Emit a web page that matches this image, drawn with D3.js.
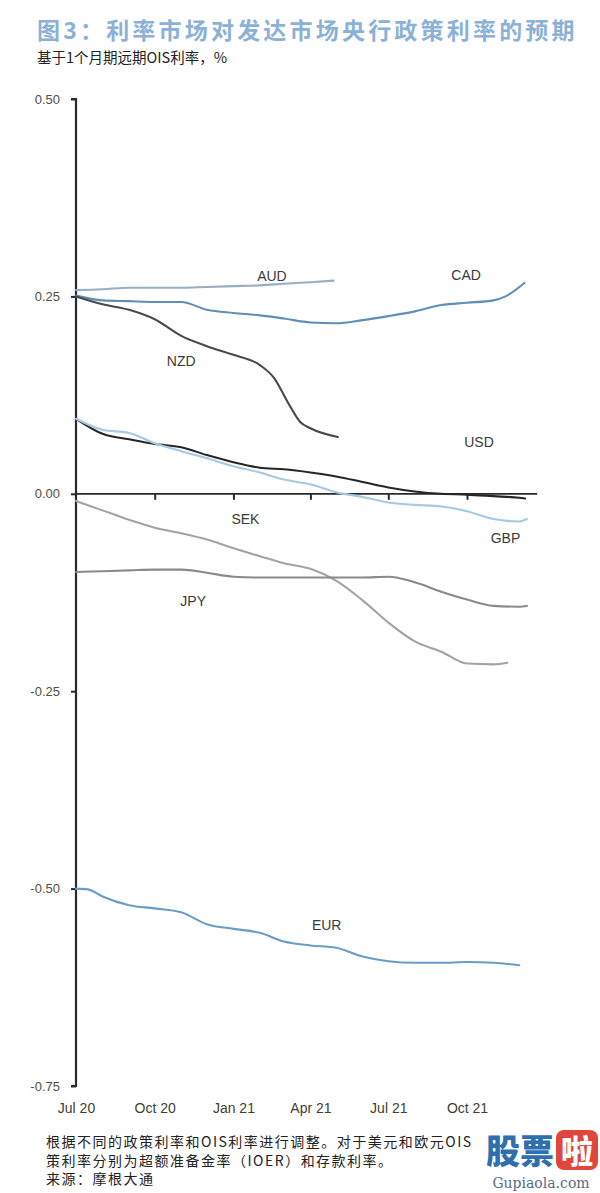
<!DOCTYPE html>
<html><head><meta charset="utf-8">
<script src="https://cdn.jsdelivr.net/npm/d3@7"></script>
<style>body{margin:0;background:#fff}svg{display:block}</style>
</head><body>
<svg id="c" width="600" height="1193"></svg>
<script>
// ---- data ----
const yTicks = [0.5, 0.25, 0, -0.25, -0.5, -0.75];
const yTickLabels = ["0.50", "0.25", "0.00", "-0.25", "-0.50", "-0.75"];
const xTicks = ["2020-07-01", "2020-10-01", "2021-01-01", "2021-04-01", "2021-07-01", "2021-10-01"];
const xTickLabels = ["Jul 20", "Oct 20", "Jan 21", "Apr 21", "Jul 21", "Oct 21"];

const AUD = [["2020-07-01",0.258],["2020-08-01",0.259],["2020-09-01",0.261],["2020-10-01",0.261],
  ["2020-11-01",0.261],["2020-12-01",0.262],["2021-01-01",0.263],["2021-02-01",0.264],
  ["2021-03-01",0.266],["2021-04-01",0.268],["2021-04-28",0.270]];
const CAD = [["2020-07-01",0.251],["2020-08-01",0.245],["2020-09-01",0.244],["2020-10-01",0.243],
  ["2020-11-01",0.243],["2020-12-01",0.233],["2021-01-01",0.229],["2021-02-01",0.226],
  ["2021-03-01",0.222],["2021-04-01",0.217],["2021-05-01",0.216],["2021-06-01",0.220],
  ["2021-07-01",0.225],["2021-08-01",0.231],["2021-09-01",0.239],["2021-10-01",0.242],
  ["2021-11-01",0.245],["2021-11-15",0.250],["2021-12-07",0.267]];
const NZD = [["2020-07-01",0.250],["2020-08-01",0.240],["2020-09-01",0.233],["2020-10-01",0.221],
  ["2020-11-01",0.200],["2020-12-01",0.187],["2021-01-01",0.176],["2021-02-01",0.163],
  ["2021-02-18",0.146],["2021-03-06",0.115],["2021-03-20",0.091],["2021-04-01",0.083],
  ["2021-05-03",0.072]];
const USD = [["2020-07-01",0.095],["2020-08-01",0.076],["2020-09-01",0.069],["2020-10-01",0.063],
  ["2020-11-01",0.059],["2020-12-01",0.049],["2021-01-01",0.040],["2021-02-01",0.033],
  ["2021-03-01",0.031],["2021-04-01",0.027],["2021-05-01",0.022],["2021-06-01",0.015],
  ["2021-07-01",0.008],["2021-08-01",0.003],["2021-09-01",0.000],["2021-10-01",-0.001],
  ["2021-11-01",-0.003],["2021-12-01",-0.005],["2021-12-08",-0.006]];
const GBP = [["2020-07-01",0.095],["2020-08-01",0.081],["2020-09-01",0.077],["2020-10-01",0.064],
  ["2020-11-01",0.054],["2020-12-01",0.045],["2021-01-01",0.035],["2021-02-01",0.027],
  ["2021-03-01",0.018],["2021-04-01",0.012],["2021-05-01",0.002],["2021-06-01",-0.004],
  ["2021-07-01",-0.011],["2021-08-01",-0.014],["2021-09-01",-0.016],["2021-10-01",-0.022],
  ["2021-11-01",-0.032],["2021-12-01",-0.035],["2021-12-10",-0.032]];
const SEK = [["2020-07-01",-0.009],["2020-08-01",-0.021],["2020-09-01",-0.033],["2020-10-01",-0.043],
  ["2020-11-01",-0.050],["2020-12-01",-0.058],["2021-01-01",-0.069],["2021-02-01",-0.079],
  ["2021-03-01",-0.088],["2021-04-01",-0.095],["2021-05-01",-0.110],["2021-06-01",-0.135],
  ["2021-07-01",-0.163],["2021-08-01",-0.187],["2021-09-01",-0.200],["2021-10-01",-0.215],
  ["2021-11-01",-0.216],["2021-11-17",-0.214]];
const JPY = [["2020-07-01",-0.099],["2020-08-01",-0.098],["2020-09-01",-0.097],["2020-10-01",-0.096],
  ["2020-11-01",-0.096],["2020-12-01",-0.100],["2021-01-01",-0.105],["2021-02-01",-0.106],
  ["2021-03-01",-0.106],["2021-04-01",-0.106],["2021-05-01",-0.106],["2021-06-01",-0.106],
  ["2021-07-01",-0.105],["2021-08-01",-0.112],["2021-09-01",-0.124],["2021-10-01",-0.134],
  ["2021-11-01",-0.142],["2021-12-01",-0.143],["2021-12-10",-0.142]];
const EUR = [["2020-07-01",-0.500],["2020-07-15",-0.501],["2020-08-01",-0.510],["2020-09-01",-0.521],
  ["2020-10-01",-0.525],["2020-11-01",-0.530],["2020-12-01",-0.545],["2021-01-01",-0.551],
  ["2021-02-01",-0.556],["2021-03-01",-0.567],["2021-04-01",-0.572],["2021-05-01",-0.575],
  ["2021-06-01",-0.586],["2021-07-01",-0.592],["2021-08-01",-0.594],["2021-09-01",-0.594],
  ["2021-10-01",-0.593],["2021-11-01",-0.594],["2021-12-01",-0.597]];

const seriesNames = ["AUD","CAD","NZD","USD","GBP","SEK","JPY","EUR"];
const seriesData = [AUD, CAD, NZD, USD, GBP, SEK, JPY, EUR];
const seriesColors = ["#9aaec2","#5f8fb6","#4a4a4a","#262626","#a6c8e2","#a3a3a3","#8a8a8a","#6b9cc4"];
const labelPos = [["2021-02-15",0.274],["2021-09-30",0.276],["2020-11-01",0.167],
  ["2021-10-15",0.064],["2021-11-15",-0.057],["2021-01-15",-0.033],["2020-11-15",-0.137],["2021-04-20",-0.548]];

const title = "图3：利率市场对发达市场央行政策利率的预期";
const subtitle = "基于1个月期远期OIS利率，%";
const notes = ["根据不同的政策利率和OIS利率进行调整。对于美元和欧元OIS",
  "策利率分别为超额准备金率（IOER）和存款利率。",
  "来源：摩根大通"];

// ---- drawing ----
const svg = d3.select("#c");
const P = d3.timeParse("%Y-%m-%d");
const x = d3.scaleTime().domain([P("2020-07-01"), P("2021-10-01")]).range([76, 467]);
const y = d3.scaleLinear().domain([0.5, -0.75]).range([99, 1086]);

svg.append("text").attr("x", 37).attr("y", 39).text(title)
  .attr("font-family", "Noto Sans CJK SC").attr("font-weight", 700).attr("font-size", 23)
  .attr("letter-spacing", 3.2).attr("fill", "#8cb1d6");
svg.append("text").attr("x", 37).attr("y", 62.5).text(subtitle)
  .attr("font-family", "Noto Sans CJK SC").attr("font-size", 14.5).attr("fill", "#222");

// y axis
const yAxis = d3.axisLeft(y).tickValues(yTicks).tickSize(5).tickPadding(11)
  .tickFormat((d, i) => yTickLabels[i]);
const gy = svg.append("g").attr("transform", "translate(76,0)").call(yAxis);
gy.select(".domain").attr("stroke", "#2a2a2a").attr("stroke-width", 2.2)
  .attr("d", `M-5,${y(0.5)}H0V${y(-0.75)}H-5`);
gy.selectAll(".tick line").attr("stroke", "#2a2a2a").attr("stroke-width", 2);
gy.selectAll(".tick text").attr("font-family", "Liberation Sans, Arial").attr("font-size", 13)
  .attr("fill", "#505040");

// x axis at zero
const xAxis = d3.axisBottom(x).tickValues(xTicks.map(P)).tickSize(6).tickFormat("");
const gx = svg.append("g").attr("transform", `translate(0,${y(0)})`).call(xAxis);
gx.select(".domain").attr("stroke", "#2a2a2a").attr("stroke-width", 1.8)
  .attr("d", `M${x(P("2020-07-01"))},0H${x(P("2021-12-22"))}`);
gx.selectAll(".tick line").attr("stroke", "#2a2a2a").attr("stroke-width", 2);
gx.selectAll(".tick").filter((d, i) => i === 0).select("line").remove();

// x labels at bottom
const gxb = svg.append("g").attr("transform", `translate(0,${y(-0.75)})`)
  .call(d3.axisBottom(x).tickValues(xTicks.map(P)).tickSize(0).tickPadding(17)
    .tickFormat((d, i) => xTickLabels[i]));
gxb.select(".domain").remove();
gxb.selectAll(".tick text").attr("font-family", "Liberation Sans, Arial").attr("font-size", 14)
  .attr("fill", "#404030");

// lines
const line = d3.line().x(d => x(P(d[0]))).y(d => y(d[1])).curve(d3.curveMonotoneX);
seriesData.forEach((s, i) => {
  svg.append("path").datum(s).attr("d", line).attr("fill", "none")
    .attr("stroke", seriesColors[i]).attr("stroke-width", 2.1)
    .attr("stroke-linejoin", "round").attr("stroke-linecap", "round");
});
seriesNames.forEach((n, i) => {
  svg.append("text").attr("x", x(P(labelPos[i][0]))).attr("y", y(labelPos[i][1]))
    .attr("text-anchor", "middle").attr("dominant-baseline", "middle").text(n)
    .attr("font-family", "Liberation Sans, Arial").attr("font-size", 14).attr("fill", "#3a3a3a");
});

// notes
notes.forEach((t, i) => {
  svg.append("text").attr("x", 46).attr("y", 1147 + i * 18.5).text(t)
    .attr("font-family", "Noto Sans CJK SC").attr("font-size", 14).attr("letter-spacing", 1.5)
    .attr("fill", "#222");
});

// watermark
svg.append("text").attr("x", 486).attr("y", 1164).text("股票")
  .attr("font-family", "Noto Sans CJK SC").attr("font-weight", 900).attr("font-size", 34)
  .attr("fill", "#2f6fb0");
svg.append("rect").attr("x", 556).attr("y", 1130).attr("width", 42).attr("height", 40)
  .attr("rx", 8).attr("fill", "#e0463c");
svg.append("text").attr("x", 577).attr("y", 1163).attr("text-anchor", "middle").text("啦")
  .attr("font-family", "Noto Sans CJK SC").attr("font-weight", 900).attr("font-size", 32)
  .attr("fill", "#fff");
svg.append("text").attr("x", 541).attr("y", 1188).attr("text-anchor", "middle").text("Gupiaola.com")
  .attr("font-family", "DejaVu Serif").attr("font-size", 14).attr("fill", "#5a6b80");
</script>
</body></html>
